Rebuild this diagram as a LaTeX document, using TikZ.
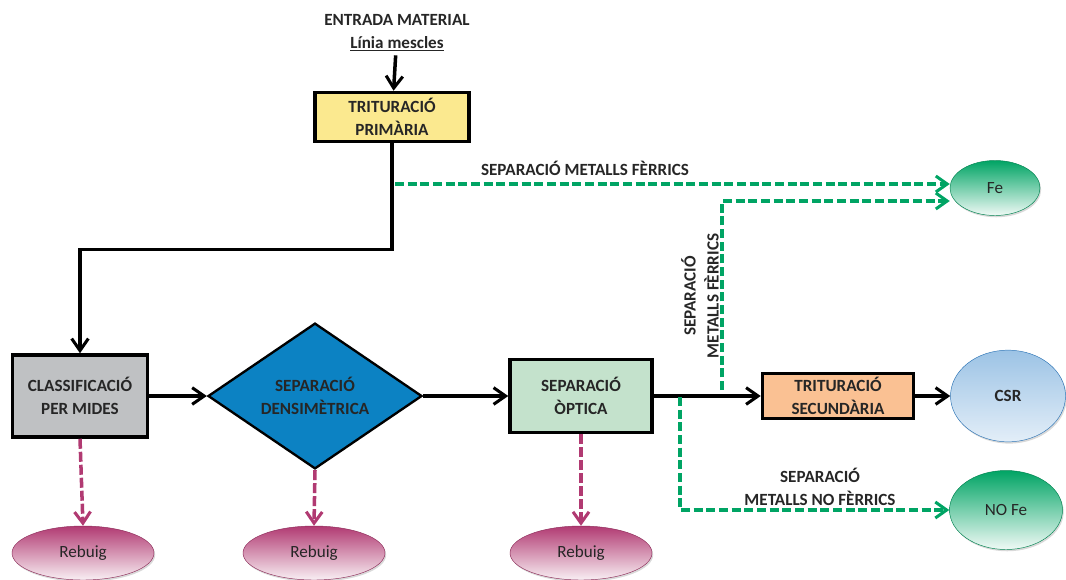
\documentclass[tikz,border=0pt]{standalone}
\usepackage{fontspec}
\setmainfont{Carlito}
\usepackage{tikz}
\usetikzlibrary{arrows.meta,positioning,calc,shapes.geometric,shadows}
\definecolor{txtC}{HTML}{262626}
\definecolor{yelC}{HTML}{FBE98F}
\definecolor{grayC}{HTML}{BFC1C3}
\definecolor{blueC}{HTML}{0C82C3}
\definecolor{mintC}{HTML}{C4E2CC}
\definecolor{peachC}{HTML}{FAC193}
\definecolor{grnC}{HTML}{00A464}
\definecolor{pnkC}{HTML}{B13A72}
\definecolor{csrT}{HTML}{9CC3E5}
\definecolor{csrB}{HTML}{E3EEF8}
\definecolor{csrD}{HTML}{2E75B6}

\tikzset{
  lbl/.style={font=\fontsize{14.6}{19.5}\selectfont\bfseries, text=txtC, align=center},
  procbox/.style={lbl, draw, line width=3pt, inner sep=0pt},
  flow/.style={line width=3pt, -{Straight Barb[length=0.36cm,width=0.5cm,line width=2.6pt]}},
  grnflow/.style={grnC, line width=3pt, dash pattern=on 0.27cm off 0.11cm,
    -{Straight Barb[length=0.34cm,width=0.48cm,line width=2.6pt]}},
  pnkflow/.style={pnkC, line width=3pt, dash pattern=on 0.3cm off 0.09cm,
    -{Straight Barb[length=0.34cm,width=0.48cm,line width=2.6pt]}},
  outnode/.style={ellipse, inner sep=0pt, text=txtC,
    font=\fontsize{14.6}{17}\selectfont,
    drop shadow={opacity=0.3, shadow xshift=1pt, shadow yshift=-1.5pt}},
  fenode/.style={outnode, draw=grnC!80!black, thin, top color=grnC, bottom color=grnC!6},
  rbnode/.style={outnode, draw=pnkC!80!black, thin, top color=pnkC, bottom color=pnkC!8},
}

\begin{document}
\begin{tikzpicture}[x=0.03cm, y=-0.03cm]
  \useasboundingbox (0,0) rectangle (1066,579);

  % entrada i trituracio primaria
  \node[lbl] (entrada) at (397,33) {ENTRADA MATERIAL\\\underline{Línia mescles}};
  \node[procbox, fill=yelC, minimum width=4.62cm, minimum height=1.47cm] (tp) at (392,117) {TRITURACIÓ\\PRIMÀRIA};

  % linia principal
  \node[procbox, fill=grayC, minimum width=4.05cm, minimum height=2.46cm] (cm) at (80,396) {CLASSIFICACIÓ\\PER MIDES};
  \node[procbox, diamond, fill=blueC, minimum width=6.42cm, minimum height=4.05cm, line width=2pt] (sd) at (315,396) {SEPARACIÓ\\DENSIMÈTRICA};
  \node[procbox, fill=mintC, minimum width=4.26cm, minimum height=2.19cm] (so) at (581,396) {SEPARACIÓ\\ÒPTICA};
  \node[procbox, fill=peachC, minimum width=4.53cm, minimum height=1.35cm] (ts) at (838,396) {TRITURACIÓ\\SECUNDÀRIA};

  % sortides
  \node[outnode, draw=csrD, thin, top color=csrT, bottom color=csrB, font=\fontsize{14.6}{17}\selectfont\bfseries,
    minimum width=3.45cm, minimum height=2.75cm] (csr) at (1008,396) {CSR};
  \node[fenode, minimum width=2.7cm, minimum height=1.65cm] (fe) at (995,188) {Fe};
  \node[fenode, minimum width=3.39cm, minimum height=2.37cm] (nofe) at (1006,510) {NO Fe};
  \foreach \nm/\xx in {rb1/83, rb2/314, rb3/581}
    \node[rbnode, minimum width=4.26cm, minimum height=1.62cm] (\nm) at (\xx,553) {Rebuig};

  % fluxos principals
  \draw[flow] (entrada) -- (tp);
  \draw[flow] (tp.south) -- ++(0,106) -| (cm.north);
  \draw[flow] (cm) -- (sd);
  \draw[flow] (sd) -- (so);
  \draw[flow] (so) -- (ts);
  \draw[flow] (ts) -- (csr);

  % separacions de metalls
  \coordinate (g1) at (395,184);
  \coordinate (g2) at (722,390);
  \coordinate (g3) at (680,397);
  \draw[grnflow] (g1) -- (g1 -| fe.west);
  \draw[grnflow] (g2) |- ($(fe.west)+(0,13)$);
  \draw[grnflow] (g3) |- (nofe.west);
  \node[lbl] (lblfe) at (585,168) {SEPARACIÓ METALLS FÈRRICS};
  \node[lbl, rotate=90] (lblfe2) at (700,296) {SEPARACIÓ\\METALLS FÈRRICS};
  \node[lbl] (lblnofe) at (820,487) {SEPARACIÓ\\METALLS NO FÈRRICS};

  % rebuig
  \draw[pnkflow] (cm.south) -- (rb1.north);
  \draw[pnkflow] (sd.south) -- (rb2.north);
  \draw[pnkflow] (so.south) -- (rb3.north);
\end{tikzpicture}
\end{document}
